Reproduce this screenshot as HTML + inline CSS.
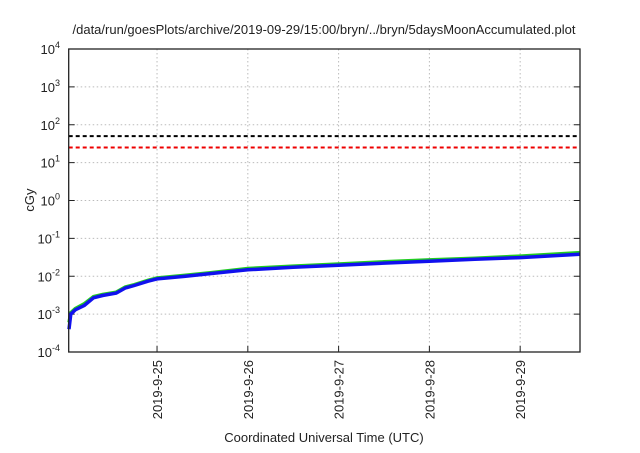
<!DOCTYPE html>
<html><head><meta charset="utf-8"><style>
body{margin:0;background:#fff;font-family:"Liberation Sans",sans-serif}
svg text{font-family:"Liberation Sans",sans-serif;fill:#222}
</style></head><body>
<svg width="640" height="448" viewBox="0 0 640 448">
<text x="324" y="34" font-size="13" text-anchor="middle">/data/run/goesPlots/archive/2019-09-29/15:00/bryn/../bryn/5daysMoonAccumulated.plot</text>
<g id="grid"></g>
<g id="axes"></g>
<g id="series"></g>
<rect x="68.7" y="49" width="511.3" height="303" fill="none" stroke="#222" stroke-width="1.3"/>
<text transform="translate(34,200) rotate(-90)" font-size="13" text-anchor="middle">cGy</text>
<text x="324" y="442" font-size="13" text-anchor="middle">Coordinated Universal Time (UTC)</text>
</svg>
<script>
// x in days relative to 2019-09-25 00:00
const xTicks=[0,1,2,3,4];
const xTickLabels=["2019-9-25","2019-9-26","2019-9-27","2019-9-28","2019-9-29"];
const yTicks=[-4,-3,-2,-1,0,1,2,3,4];
const greenX=[-0.97,-0.95,-0.9,-0.8,-0.7,-0.6,-0.45,-0.35,-0.25,-0.1,0,0.3,0.6,1,1.5,2,2.5,3,3.5,4,4.66];
const greenY=[0.0006,0.0011,0.0014,0.0019,0.0029,0.0033,0.0038,0.0052,0.006,0.0078,0.009,0.0105,0.0125,0.016,0.0185,0.021,0.024,0.027,0.03,0.034,0.042];
const blueX=greenX;
const blueY=[0.0004,0.001,0.0013,0.0017,0.0027,0.0031,0.0036,0.0049,0.0057,0.0074,0.0085,0.0099,0.0118,0.0148,0.0172,0.0195,0.0222,0.025,0.028,0.031,0.038];
const thresholds=[50,25];
const thresholdColors=["#000","#e00"];
const L=68.7,R=580,T=49,B=352,X0=-0.973,X1=4.659,YL=-4,YH=4;
const sx=d=>L+(d-X0)/(X1-X0)*(R-L);
const sy=v=>B-(Math.log10(v)-YL)/(YH-YL)*(B-T);
const ns="http://www.w3.org/2000/svg";
function mk(tag,parent,attrs){const e=document.createElementNS(ns,tag);for(const k in attrs)e.setAttribute(k,attrs[k]);parent.appendChild(e);return e;}
const grid=document.getElementById('grid'),axes=document.getElementById('axes'),ser=document.getElementById('series');
yTicks.forEach(p=>{const y=sy(Math.pow(10,p));
 if(p>YL&&p<YH){const g=mk('line',grid,{x1:L,x2:R,y1:y,y2:y,stroke:'#bbb','stroke-dasharray':'1.5,2.5','stroke-width':1});
 }
 const t1=mk('line',axes,{x1:L,x2:L+6,y1:y,y2:y,stroke:'#222'});
 const t2=mk('line',axes,{x1:R-6,x2:R,y1:y,y2:y,stroke:'#222'});
 const tx=mk('text',axes,{x:60,y:y+5,'font-size':13,'text-anchor':'end'});
 
 tx.textContent='10';const s=mk('tspan',tx,{dy:-6,'font-size':9});s.textContent=String(p);
});
xTicks.forEach((d,i)=>{const x=sx(d);
 const g=mk('line',grid,{x1:x,x2:x,y1:T,y2:B,stroke:'#bbb','stroke-dasharray':'1.5,2.5','stroke-width':1});
 
 const t=mk('line',axes,{x1:x,x2:x,y1:B-6,y2:B,stroke:'#222'});
 const tx=mk('text',axes,{transform:`translate(${x+5},${B+8}) rotate(-90)`,'font-size':13,'text-anchor':'end'});
 
 tx.textContent=xTickLabels[i];
});
thresholds.forEach((v,i)=>{const y=sy(v);
 const l=mk('line',ser,{x1:L,x2:R,y1:y,y2:y,stroke:thresholdColors[i],'stroke-width':2,'stroke-dasharray':'4,3'});
 
});
function path(xs,ys){return xs.map((d,i)=>(i?'L':'M')+sx(d).toFixed(1)+','+sy(ys[i]).toFixed(1)).join(' ');}
const gp=mk('path',ser,{d:path(greenX,greenY),fill:'none',stroke:'#2c2','stroke-width':3.5});

const bp=mk('path',ser,{d:path(blueX,blueY),fill:'none',stroke:'#11e','stroke-width':3.5});

</script>
</body></html>
